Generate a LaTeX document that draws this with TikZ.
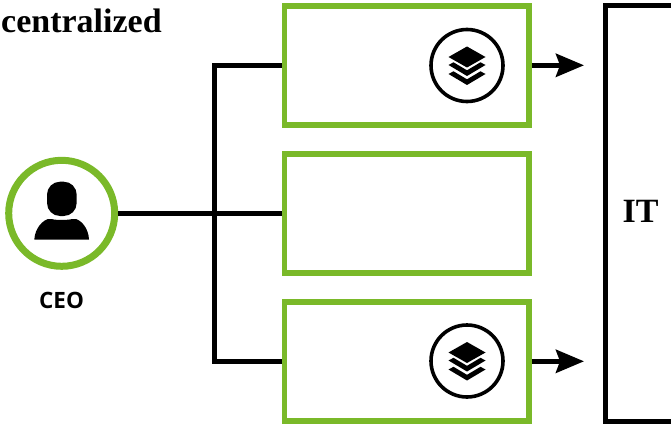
\documentclass[tikz,border=0pt]{standalone}
\usepackage{fontspec}
\setmainfont{Liberation Serif}
\newfontfamily\opensans{Open Sans}
\usetikzlibrary{arrows.meta}
\definecolor{leaf}{HTML}{7AB929}
\tikzset{
  every picture/.style={x=1pt,y=-1pt},
  unitbox/.style={draw=leaf,line width=5.5pt,minimum width=244.5pt,minimum height=119pt,inner sep=0pt,outer sep=2.75pt},
  conn/.style={draw=black,line width=5pt},
  arrowconn/.style={conn,-{Stealth[length=28pt,width=23pt,inset=4pt]}},
  ringicon/.style={draw=black,line width=3.6pt,circle,minimum size=72pt,inner sep=0pt},
  layer/.style={fill=black,draw=none}
}
\newcommand{\layersicon}[2]{%
  \fill[layer] (#1,#2-19) -- (#1+18.5,#2-8.5) -- (#1,#2+2) -- (#1-18.5,#2-8.5) -- cycle;
  \fill[layer] (#1-18.5,#2-0.5) -- (#1-13.5,#2-3.2) -- (#1,#2+4.8) -- (#1+13.5,#2-3.2) -- (#1+18.5,#2-0.5) -- (#1,#2+10.5) -- cycle;
  \fill[layer] (#1-18.5,#2+8.5) -- (#1-13.5,#2+5.8) -- (#1,#2+13.8) -- (#1+13.5,#2+5.8) -- (#1+18.5,#2+8.5) -- (#1,#2+19.5) -- cycle;
}
\begin{document}
\begin{tikzpicture}
\useasboundingbox (0,0) rectangle (671,425);
\node[anchor=base west,inner sep=0pt,font=\bfseries\fontsize{34}{34}\selectfont] (title) at (1,33) {centralized};
\node[unitbox] (top) at (406.75,65.3) {};
\node[unitbox] (mid) at (406.75,213.3) {};
\node[unitbox] (bot) at (406.75,361.3) {};
\node[draw=leaf,line width=7pt,circle,minimum size=106pt,inner sep=0pt,outer sep=3.5pt] (ceo) at (61.7,213.3) {};
\node[font=\opensans\bfseries\fontsize{22.5}{23}\selectfont,inner sep=0pt] (ceolabel) at (61.5,300.5) {CEO};
\node[font=\bfseries\fontsize{34}{34}\selectfont,inner sep=0pt] (it) at (640.5,211.5) {IT};
% IT box, open beyond the right edge
\draw[line width=5pt] (675,6) -- (605.8,6) -- (605.8,421) -- (675,421);
% connectors
\coordinate (jt) at (214,65.3);
\coordinate (jb) at (214,361.3);
\coordinate (itt) at (584,65.3);
\coordinate (itb) at (584,361.3);
\draw[conn] (ceo.east) -- (mid.west);
\draw[conn,line join=miter] (top.west) -- (jt) -- (jb) -- (bot.west);
\draw[arrowconn] (top.east) -- (itt);
\draw[arrowconn] (bot.east) -- (itb);
% layer icons
\node[ringicon] (iconA) at (467,65.5) {};
\node[ringicon] (iconB) at (467,361) {};
\layersicon{467}{65.5}
\layersicon{467}{361}
% person
\fill[black] (34.3,239.5) .. controls (35,228) and (43,219.5) .. (50,218.5) .. controls (54,220.5) and (69,220.5) .. (74,218.5) .. controls (81,219.5) and (88.5,228) .. (89,239.5) -- cycle;
\fill[white] (44,216) rectangle (80,218.5);
\fill[black,rounded corners=13pt] (47,181.7) -- (76.7,181.7) -- (76.7,216) -- (47,216) -- cycle;
\end{tikzpicture}
\end{document}
